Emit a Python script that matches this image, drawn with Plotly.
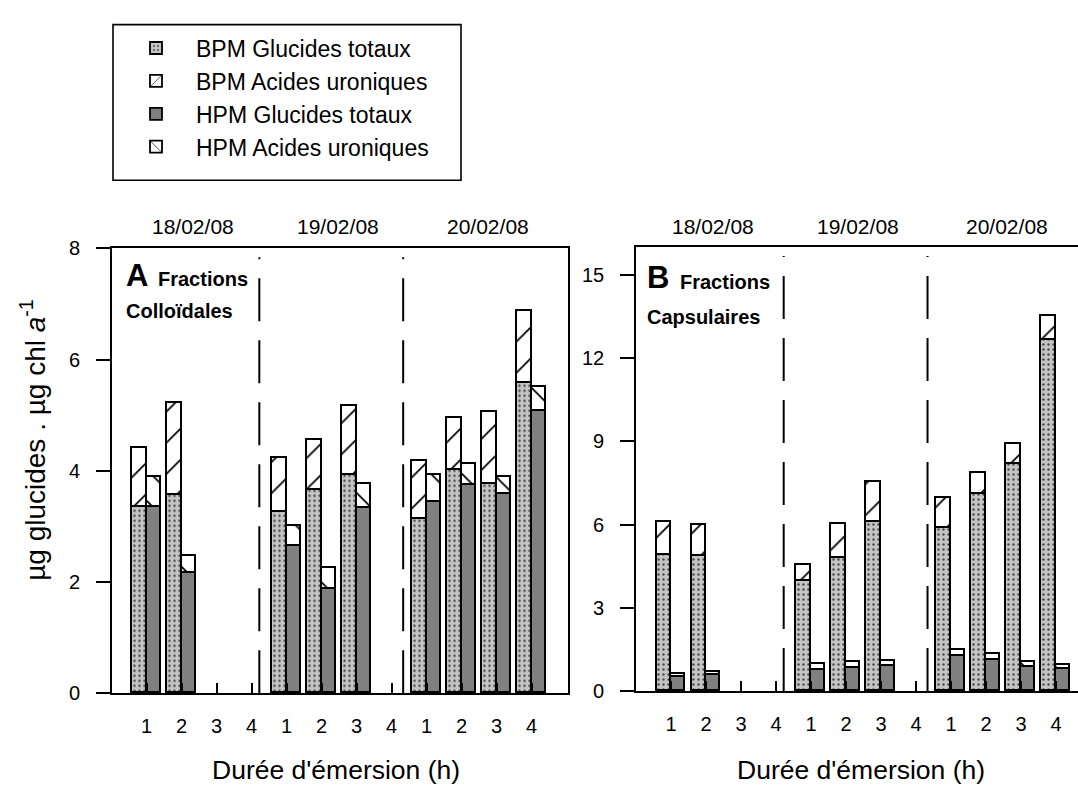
import plotly.graph_objects as go

# ---------------- data ----------------
durations = ["1", "2", "3", "4"]
dates = ["18/02/08", "19/02/08", "20/02/08"]
tick_labels = durations * 3
positions = list(range(12))

# Panel A : fractions colloïdales (µg glucides . µg chl a-1)
A_bpm_gt = [3.35, 3.56, None, None, 3.26, 3.64, 3.91, None, 3.13, 4.00, 3.76, 5.58]
A_bpm_au = [1.05, 1.66, None, None, 0.97, 0.91, 1.25, None, 1.04, 0.94, 1.29, 1.28]
A_hpm_gt = [3.35, 2.15, None, None, 2.64, 1.86, 3.32, None, 3.44, 3.74, 3.58, 5.07]
A_hpm_au = [0.53, 0.32, None, None, 0.36, 0.39, 0.43, None, 0.48, 0.37, 0.30, 0.43]

# Panel B : fractions capsulaires
B_bpm_gt = [4.90, 4.86, None, None, 3.96, 4.78, 6.08, None, 5.86, 7.11, 8.18, 12.65]
B_bpm_au = [1.18, 1.12, None, None, 0.59, 1.25, 1.46, None, 1.11, 0.76, 0.72, 0.85]
B_hpm_gt = [0.49, 0.56, None, None, 0.76, 0.84, 0.90, None, 1.26, 1.13, 0.87, 0.78]
B_hpm_au = [0.11, 0.14, None, None, 0.23, 0.20, 0.17, None, 0.22, 0.21, 0.18, 0.17]

series_names = ["BPM Glucides totaux", "BPM Acides uroniques",
                "HPM Glucides totaux", "HPM Acides uroniques"]

# ---------------- geometry helpers ----------------
W, H = 1078, 799
def px(x):
    return x / W
def py(y):
    return 1 - y / H

FONT = "Liberation Sans, Arial, sans-serif"
BW = 0.414
OFF = 0.207

styles = [
    dict(color="#c4c4c4", line=dict(color="black", width=1.8),
         pattern=dict(shape=".", size=5, solidity=0.18, fgcolor="#4a4a4a",
                      bgcolor="#c4c4c4", fillmode="replace")),
    dict(color="white", line=dict(color="black", width=1.8),
         pattern=dict(shape="/", size=22, solidity=0.08, fgcolor="black",
                      bgcolor="white", fillmode="replace")),
    dict(color="#808080", line=dict(color="black", width=1.8)),
    dict(color="white", line=dict(color="black", width=1.8),
         pattern=dict(shape="\\", size=22, solidity=0.08, fgcolor="black",
                      bgcolor="white", fillmode="replace")),
]

fig = go.Figure()

def add_panel(vals, xa, ya, show):
    for k, v in enumerate(vals):
        shift = -OFF if k < 2 else OFF
        fig.add_trace(go.Bar(
            x=[p + shift for p in positions], y=v, width=BW,
            marker=styles[k], name=series_names[k], legendgroup=series_names[k],
            showlegend=show, xaxis=xa, yaxis=ya))

add_panel([A_bpm_gt, A_bpm_au, A_hpm_gt, A_hpm_au], "x", "y", True)
add_panel([B_bpm_gt, B_bpm_au, B_hpm_gt, B_hpm_au], "x2", "y2", False)

axis_common = dict(showgrid=False, zeroline=False, showline=True, linecolor="black",
                   linewidth=1.6, tickcolor="black", tickwidth=1.6,
                   tickfont=dict(family=FONT, size=20, color="black"))

xa_common = dict(axis_common, tickmode="array", tickvals=positions, ticktext=tick_labels,
                 ticks="inside", ticklen=10, ticklabelstandoff=14)

fig.update_layout(
    width=W, height=H, margin=dict(l=0, r=0, t=0, b=0),
    paper_bgcolor="white", plot_bgcolor="white",
    barmode="stack", bargap=0,
    font=dict(family=FONT, color="black"),
    xaxis=dict(xa_common, domain=[px(112), px(568)], range=[-0.99, 12.04],
               mirror=True, anchor="y"),
    yaxis=dict(axis_common, domain=[py(701.5), py(244)], range=[0, 8],
               tickvals=[0, 2, 4, 6, 8], ticks="outside", ticklen=14,
               ticklabelstandoff=12, mirror=True, anchor="x"),
    xaxis2=dict(xa_common, domain=[px(636), 1.0], range=[-1.0, 11.63],
                mirror=True, anchor="y2"),
    yaxis2=dict(axis_common, domain=[py(699.3), py(242.7)], range=[0, 16],
                tickvals=[0, 3, 6, 9, 12, 15], ticks="outside", ticklen=14,
                ticklabelstandoff=12, mirror=False, anchor="x2"),
    legend=dict(x=px(116), y=py(16), xanchor="left", yanchor="top",
                borderwidth=0, bgcolor="rgba(0,0,0,0)",
                font=dict(family=FONT, size=23, color="black"),
                traceorder="normal", itemwidth=70, tracegroupgap=0),
)

# legend frame
fig.add_shape(type="rect", xref="paper", yref="paper", x0=px(113), x1=px(461),
              y0=py(174), y1=py(14), line=dict(color="black", width=1.6), layer="below")

# dashed separators between dates
for xa, ya in (("x", "y"), ("x2", "y2")):
    for xd in (3.22, 7.33):
        fig.add_shape(type="line", xref=xa, yref=ya + " domain", x0=xd, x1=xd,
                      y0=0, y1=0.98, line=dict(color="black", width=2, dash="43px,19px"))

# date labels above panels
for xa, xs in (("x", (1.33, 5.47, 9.76)), ("x2", (1.21, 5.35, 9.59))):
    for d, xv in zip(dates, xs):
        fig.add_annotation(text=d, x=xv, xref=xa, y=py(222), yref="paper",
                           showarrow=False, xanchor="center", yanchor="middle",
                           font=dict(family=FONT, size=21, color="black"))

def ann(text, x, y, size, xanchor="left", angle=0, bold=False):
    fig.add_annotation(text=(f"<b>{text}</b>" if bold else text), x=px(x), y=py(y),
                       xref="paper", yref="paper", showarrow=False,
                       xanchor=xanchor, yanchor="middle", textangle=angle,
                       font=dict(family=FONT, size=size, color="black"))

ann("A", 124, 272, 31, bold=True)
ann("Fractions", 156, 276, 20, bold=True)
ann("Colloïdales", 124, 309, 20, bold=True)
ann("B", 645, 274, 31, bold=True)
ann("Fractions", 678, 279, 20, bold=True)
ann("Capsulaires", 645, 315, 20, bold=True)

ann("Durée d'émersion (h)", 336, 781, 26.5, xanchor="center")
ann("Durée d'émersion (h)", 861, 781, 26.5, xanchor="center")
ytitle = "µg glucides . µg chl <i>a</i><sup>-1</sup>"
ann(ytitle, 33, 441, 28, xanchor="center", angle=-90)

fig.write_html("out.html", config={"displayModeBar": False},
               post_script="document.body.style.margin='0';")
